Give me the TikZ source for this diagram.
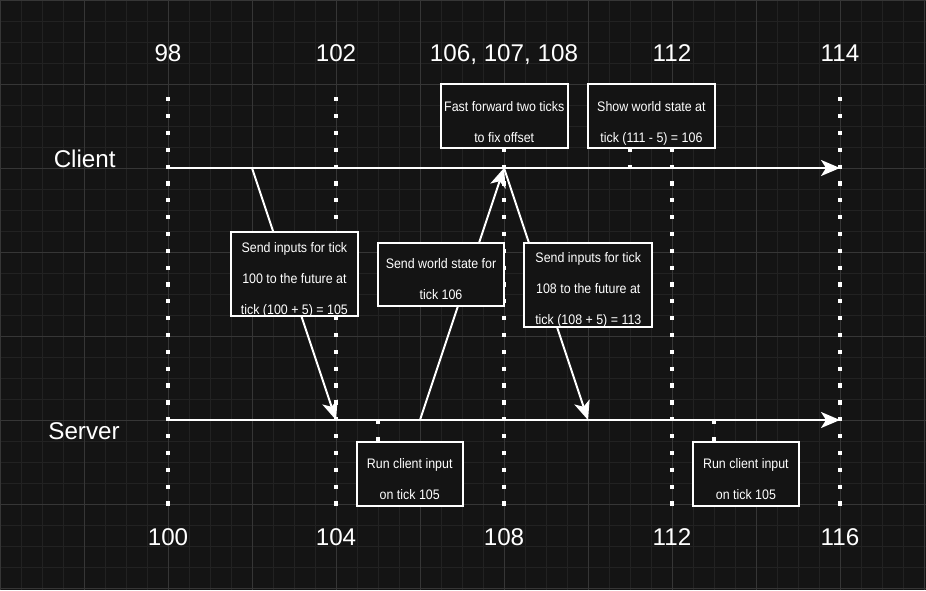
\documentclass[tikz,border=0pt]{standalone}
\usepackage{fontspec}
\setmainfont{Liberation Sans}
\newfontfamily\smallfnt[FakeStretch=0.9]{Liberation Sans}
\usetikzlibrary{arrows.meta}
\definecolor{bg}{HTML}{141414}
\definecolor{gridminor}{HTML}{222222}
\definecolor{gridmajor}{HTML}{363636}
\tikzset{
  big/.style={text=white, font=\fontsize{24.2}{29}\selectfont, anchor=base, inner sep=0pt},
  small/.style={text=white, font=\smallfnt\fontsize{13.8}{31}\selectfont, align=center, anchor=base, inner sep=0pt},
  box/.style={draw=white, line width=2pt, fill=bg, inner sep=0pt, rectangle},
  tl/.style={white, line width=2pt},
  arr/.style={tl, -{Stealth[length=19pt,width=16pt,inset=5pt]}},
  dots/.style={white, line width=4.2pt, dash pattern=on 4.2pt off 12.64pt},
}
\begin{document}
\begin{tikzpicture}[x=1pt,y=-1pt]
\useasboundingbox (0,0) rectangle (926,590);
\fill[bg] (0,0) rectangle (926,590);
% grid
\foreach \i in {0,21,...,924} \draw[gridminor, line width=1pt] (\i,0) -- (\i,590);
\foreach \j in {0,21,...,588} \draw[gridminor, line width=1pt] (0,\j) -- (926,\j);
\foreach \i in {0,84,...,924} \draw[gridmajor, line width=1pt] (\i,0) -- (\i,590);
\foreach \j in {0,84,...,588} \draw[gridmajor, line width=1pt] (0,\j) -- (926,\j);
% dotted tick lines
\foreach \x in {168,336,504,672,840} \draw[dots] (\x,97.2) -- (\x,505.6);
\draw[dots] (630,148) -- (630,168);
\draw[dots] (378,420) -- (378,442);
\draw[dots] (714,420) -- (714,442);
% named points on the timelines
\coordinate (cStart) at (168,168);
\coordinate (cEnd) at (840,168);
\coordinate (sStart) at (168,420);
\coordinate (sEnd) at (840,420);
\coordinate (c100) at (252,168);
\coordinate (c108) at (504,168);
\coordinate (s104) at (336,420);
\coordinate (s106) at (420,420);
\coordinate (s110) at (588,420);
% timelines
\draw[arr] (cStart) -- (cEnd);
\draw[arr] (sStart) -- (sEnd);
% messages
\draw[arr] (c100) -- (s104);
\draw[arr] (s106) -- (c108);
\draw[arr] (c108) -- (s110);
% boxes
\node[box, minimum width=126.7pt, minimum height=83.7pt] (bA) at (294.4,274.2) {};
\node[box, minimum width=126.6pt, minimum height=63.3pt] (bB) at (441,274.3) {};
\node[box, minimum width=128pt, minimum height=84.6pt] (bC) at (588.3,285) {};
\node[box, minimum width=127pt, minimum height=64pt] (bD) at (504.2,116.3) {};
\node[box, minimum width=127.3pt, minimum height=64pt] (bE) at (651.4,116.3) {};
\node[box, minimum width=106pt, minimum height=64pt] (bF) at (409.7,473.7) {};
\node[box, minimum width=106.3pt, minimum height=64pt] (bG) at (745.9,473.7) {};
% box texts (anchor = baseline of last line)
\node[small] (tA) at (294.4,314.3) {Send inputs for tick\\100 to the future at\\tick (100 + 5) = 105};
\node[small] (tB) at (441,299) {Send world state for\\tick 106};
\node[small] (tC) at (588.3,324.3) {Send inputs for tick\\108 to the future at\\tick (108 + 5) = 113};
\node[small] (tD) at (504.2,142.3) {Fast forward two ticks\\to fix offset};
\node[small] (tE) at (651.4,142.3) {Show world state at\\tick (111 - 5) = 106};
\node[small] (tF) at (409.7,499.3) {Run client input\\on tick 105};
\node[small] (tG) at (745.9,499.3) {Run client input\\on tick 105};
% labels
\node[big] (l98) at (168,61.7) {98};
\node[big] (l102) at (336,61.7) {102};
\node[big] (l106) at (504,61.7) {106, 107, 108};
\node[big] (l112) at (672,61.7) {112};
\node[big] (l114) at (840,61.7) {114};
\node[big] (l100) at (168,545) {100};
\node[big] (l104) at (336,545) {104};
\node[big] (l108) at (504,545) {108};
\node[big] (l112b) at (672,545) {112};
\node[big] (l116) at (840,545) {116};
\node[big] (lClient) at (84.7,167) {Client};
\node[big] (lServer) at (84,439.5) {Server};
\end{tikzpicture}
\end{document}
